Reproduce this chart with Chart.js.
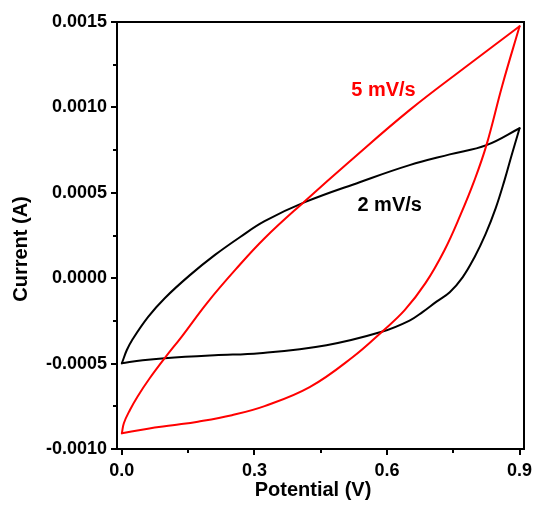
<!DOCTYPE html>
<html>
<head>
<meta charset="utf-8">
<script src="https://cdn.jsdelivr.net/npm/chart.js@4"></script>
<style>
	html, body { margin: 0; padding: 0; background: #fff; }
	#wrap { width: 535px; height: 506px; position: relative; }
</style>
</head>
<body>
<div id="wrap"><canvas id="cv-chart"></canvas></div>
<script>
	'use strict';

	// Cyclic voltammograms, potential (V) vs current (A), one array pair per sweep
	// 2 mV/s, sweep from 0 V up to 0.9 V (lower branch)
	var potential2Fwd = [0.000, 0.047, 0.097, 0.210, 0.312, 0.463, 0.590, 0.651, 0.681, 0.712, 0.742, 0.771, 0.798, 0.823, 0.846, 0.866, 0.882, 0.900];
	var current2Fwd = [-0.000498, -0.000480, -0.000468, -0.000451, -0.000439, -0.000392, -0.000312, -0.000248, -0.000197, -0.000137, -0.000082, 0.000005, 0.000123, 0.000258, 0.000410, 0.000574, 0.000720, 0.000878];
	// 2 mV/s, sweep back from 0.9 V to 0 V (upper branch)
	var potential2Rev = [0.900, 0.825, 0.742, 0.651, 0.538, 0.414, 0.323, 0.267, 0.210, 0.154, 0.097, 0.059, 0.023, 0.011, 0.000];
	var current2Rev = [0.000878, 0.000779, 0.000725, 0.000662, 0.000562, 0.000445, 0.000334, 0.000240, 0.000135, 0.000018, -0.000117, -0.000228, -0.000363, -0.000422, -0.000498];

	// 5 mV/s, rising sweep
	var potential5Fwd = [0.000, 0.0045, 0.018, 0.036, 0.063, 0.097, 0.136, 0.194, 0.258, 0.323, 0.414, 0.516, 0.651, 0.780, 0.900];
	var current5Fwd = [-0.000908, -0.000849, -0.000773, -0.000691, -0.000586, -0.000468, -0.000340, -0.000141, 0.000053, 0.000234, 0.000451, 0.000685, 0.000984, 0.001241, 0.001475];
	// 5 mV/s, falling sweep
	var potential5Rev = [0.900, 0.861, 0.825, 0.798, 0.766, 0.730, 0.687, 0.640, 0.590, 0.522, 0.425, 0.323, 0.249, 0.172, 0.115, 0.059, 0.000];
	var current5Rev = [0.001475, 0.001130, 0.000779, 0.000574, 0.000369, 0.000164, -0.000029, -0.000187, -0.000310, -0.000463, -0.000638, -0.000749, -0.000802, -0.000840, -0.000861, -0.000881, -0.000908];

	var xTicks = [0, 0.3, 0.6, 0.9];
	var xMinorTicks = [0.15, 0.45, 0.75];
	var yTicks = [-0.0010, -0.0005, 0.0000, 0.0005, 0.0010, 0.0015];
	var yMinorTicks = [-0.00075, -0.00025, 0.00025, 0.00075, 0.00125];

	var seriesLabels = ['5 mV/s', '2 mV/s'];
	var seriesColors = ['#ff0000', '#000000'];

	var FONT = '"Liberation Sans", Arial, sans-serif';

	function toPoints(xs, ys) {
		return xs.map(function (x, i) {
			return { x: x, y: ys[i] };
		});
	}

	function sweep(label, color, xs, ys) {
		return {
			label: label,
			data: toPoints(xs, ys),
			borderColor: color,
			borderWidth: 2,
			borderCapStyle: 'round',
			borderJoinStyle: 'round',
			showLine: true,
			pointRadius: 0,
			tension: 0.4
		};
	}

	/**
	 * Box frame, outward tick marks, axis titles and curve labels
	 */
	var decorations = {
		id: 'decorations',
		afterDatasetsDraw: function (chart) {
			var ctx = chart.ctx;
			var a = chart.chartArea;
			var sx = chart.scales.x;
			var sy = chart.scales.y;

			ctx.save();
			ctx.strokeStyle = '#000';
			ctx.lineWidth = 2;
			ctx.strokeRect(a.left, a.top, a.right - a.left, a.bottom - a.top);

			ctx.beginPath();
			xTicks.concat(xMinorTicks).forEach(function (v) {
				var px = Math.round(sx.getPixelForValue(v));
				var len = xTicks.indexOf(v) >= 0 ? 6 : 4;
				ctx.moveTo(px, a.bottom);
				ctx.lineTo(px, a.bottom + len);
			});
			yTicks.concat(yMinorTicks).forEach(function (v) {
				var py = Math.round(sy.getPixelForValue(v));
				var len = yTicks.indexOf(v) >= 0 ? 6 : 4;
				ctx.moveTo(a.left, py);
				ctx.lineTo(a.left - len, py);
			});
			ctx.stroke();

			ctx.fillStyle = '#000';
			ctx.font = 'bold 20px ' + FONT;
			ctx.textAlign = 'center';
			ctx.textBaseline = 'middle';
			ctx.fillText('Potential (V)', 313, 490);

			ctx.save();
			ctx.translate(21, 249);
			ctx.rotate(-Math.PI / 2);
			ctx.fillText('Current (A)', 0, 0);
			ctx.restore();

			// curve labels placed in data units
			ctx.fillStyle = seriesColors[0];
			ctx.fillText(seriesLabels[0], sx.getPixelForValue(0.592), sy.getPixelForValue(0.00110));
			ctx.fillStyle = seriesColors[1];
			ctx.fillText(seriesLabels[1], sx.getPixelForValue(0.606), sy.getPixelForValue(0.000427));
			ctx.restore();
		}
	};

	new Chart(document.getElementById('cv-chart'), {
		type: 'scatter',
		data: {
			datasets: [
				sweep(seriesLabels[0], seriesColors[0], potential5Fwd, current5Fwd),
				sweep(seriesLabels[0], seriesColors[0], potential5Rev, current5Rev),
				sweep(seriesLabels[1], seriesColors[1], potential2Fwd, current2Fwd),
				sweep(seriesLabels[1], seriesColors[1], potential2Rev, current2Rev)
			]
		},
		options: {
			responsive: true,
			maintainAspectRatio: false,
			animation: false,
			layout: {
				padding: { left: 0, top: 22, right: 11, bottom: 0 }
			},
			plugins: {
				legend: { display: false },
				tooltip: { enabled: false }
			},
			scales: {
				x: {
					type: 'linear',
					min: -0.011,
					max: 0.91,
					grid: { display: false, drawTicks: false },
					border: { display: false },
					afterBuildTicks: function (scale) {
						scale.ticks = xTicks.map(function (v) {
							return { value: v };
						});
					},
					afterFit: function (scale) {
						scale.height = 57;
						scale.paddingLeft = 0;
						scale.paddingRight = 0;
					},
					ticks: {
						padding: 11,
						color: '#000',
						font: { family: FONT, size: 18, weight: 'bold' },
						maxRotation: 0,
						callback: function (value) {
							return Number(value).toFixed(1);
						}
					}
				},
				y: {
					type: 'linear',
					min: -0.0010,
					max: 0.0015,
					grid: { display: false, drawTicks: false },
					border: { display: false },
					afterBuildTicks: function (scale) {
						scale.ticks = yTicks.map(function (v) {
							return { value: v };
						});
					},
					afterFit: function (scale) {
						scale.width = 117;
						scale.paddingTop = 0;
						scale.paddingBottom = 0;
					},
					ticks: {
						padding: 10,
						color: '#000',
						font: { family: FONT, size: 18, weight: 'bold' },
						callback: function (value) {
							return Number(value).toFixed(4);
						}
					}
				}
			}
		},
		plugins: [decorations]
	});
</script>
</body>
</html>
